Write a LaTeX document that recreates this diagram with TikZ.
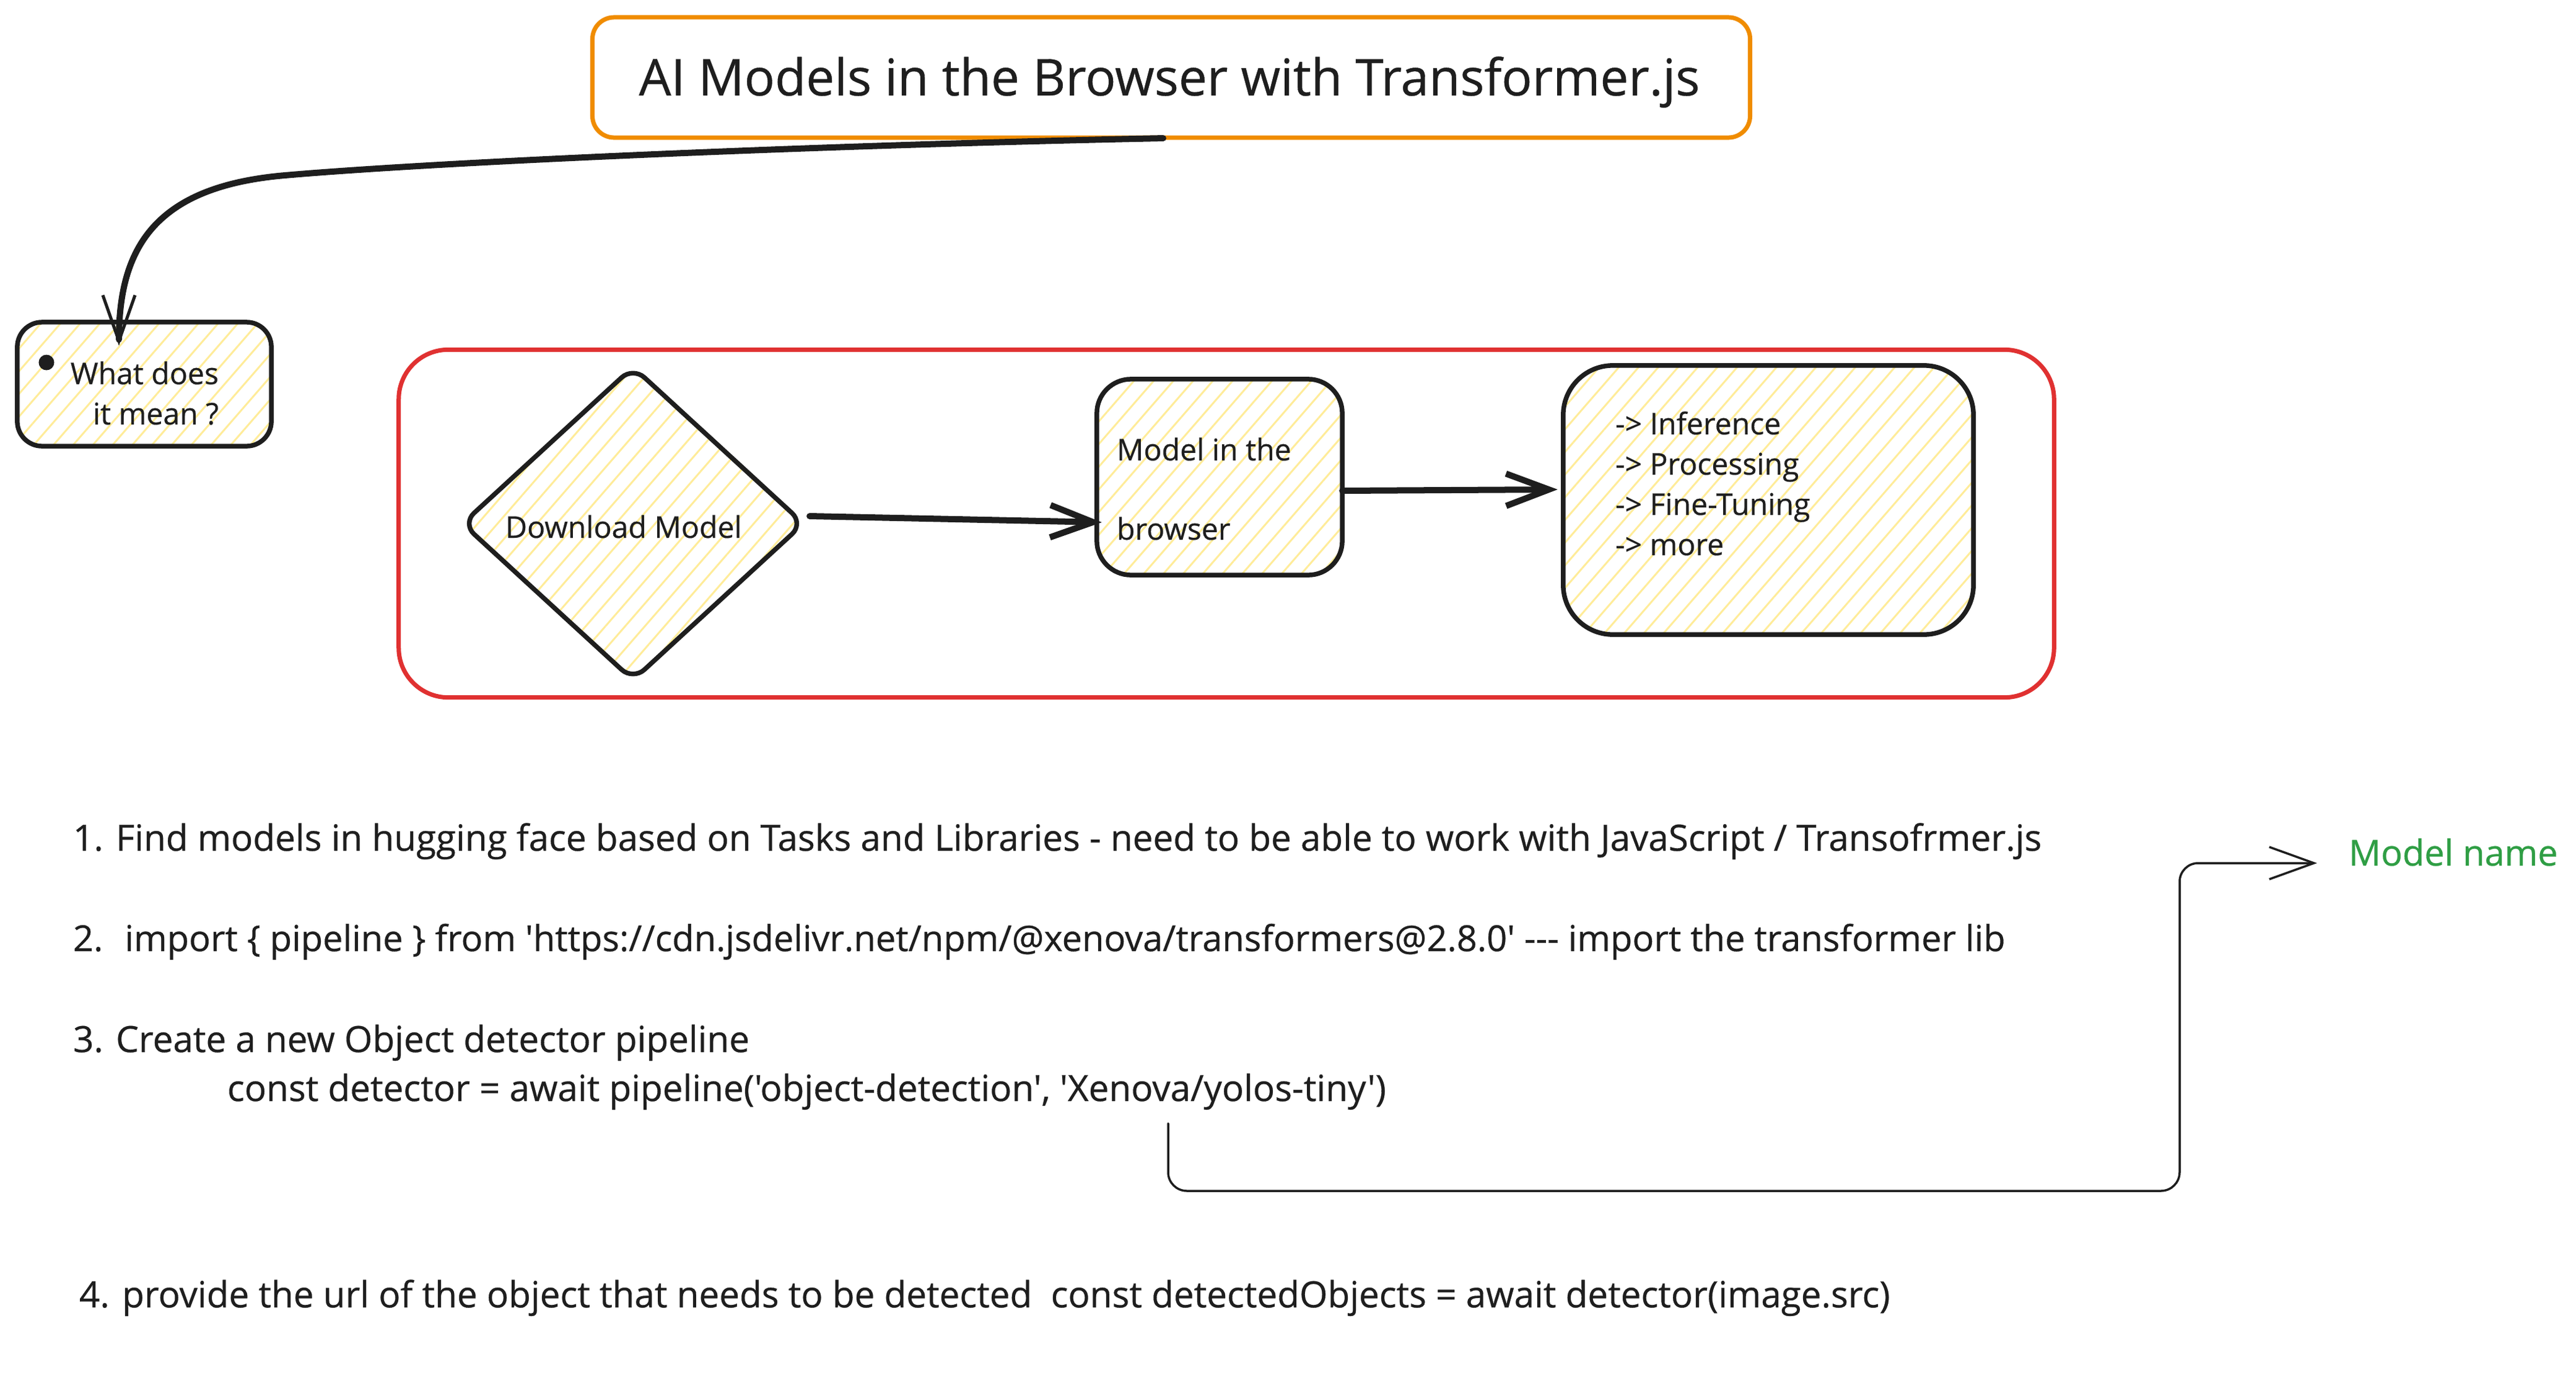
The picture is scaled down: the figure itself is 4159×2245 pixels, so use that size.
\documentclass[tikz,border=0pt]{standalone}
\usepackage{fontspec}
\newfontfamily\xf{Open Sans}[FakeBold=0.5]
\usetikzlibrary{arrows.meta,shapes.geometric,patterns.meta,calc}
\definecolor{ink}{HTML}{1E1E1E}
\definecolor{exorange}{HTML}{F08C00}
\definecolor{exred}{HTML}{E03131}
\definecolor{exgreen}{HTML}{2F9E44}
\definecolor{hatchy}{HTML}{FFEC99}
\newcommand\fsT{\fontsize{23.3pt}{27pt}\selectfont}
\newcommand\fsB{\fontsize{16.6pt}{20pt}\selectfont}
\newcommand\fsBn{\fontsize{16.42pt}{20pt}\selectfont}
\newcommand\fsS{\fontsize{13.7pt}{16pt}\selectfont}
\newcommand\fsM{\fontsize{16.4pt}{20pt}\selectfont}
\begin{document}
\begin{tikzpicture}[x=0.01cm,y=-0.01cm,
  txt/.style={inner sep=0pt, outer sep=0pt, text=ink, font=\xf\fsB},
  smalltxt/.style={txt, font=\xf\fsS},
  hatched/.style={pattern={Lines[angle=49,distance=0.24cm,line width=0.03cm]}, pattern color=hatchy},
  blackbox/.style={draw=ink, line width=0.075cm, hatched, inner sep=0pt, outer sep=0pt},
  framebox/.style={rectangle, line width=0.07cm, inner sep=0pt, outer sep=0pt},
  thickarrow/.style={draw=ink, line width=0.1cm, line cap=round, -{Straight Barb[length=0.69cm,width=0.52cm]}},
  bigarrow/.style={draw=ink, line width=0.1cm, line cap=round, -{Straight Barb[length=0.74cm,width=0.52cm,line width=0.05cm]}},
  thinarrow/.style={draw=ink, line width=0.035cm, line cap=round, rounded corners=0.3cm, -{Straight Barb[length=0.72cm,width=0.52cm]}}
]
\useasboundingbox[fill=white] (0,0) rectangle (4159,2245);

% title
\node[framebox, draw=exorange, rounded corners=0.35cm, minimum width=18.68cm, minimum height=1.94cm] (title) at (1891,125) {};
\node[txt, font=\xf\fsT, anchor=base] (titletxt) at (1888,154) {AI Models in the Browser with Transformer.js};

% what does it mean
\node[blackbox, rectangle, rounded corners=0.4cm, minimum width=4.1cm, minimum height=2cm] (what) at (233,620) {};
\node[circle, fill=ink, inner sep=0pt, minimum size=0.25cm] (dot) at (75,585) {};
\node[smalltxt, anchor=base east] (whatA) at (353,620) {What does};
\node[smalltxt, anchor=base east] (whatB) at (353,685) {it mean ?};

% red frame
\node[framebox, draw=exred, rounded corners=0.8cm, minimum width=26.71cm, minimum height=5.61cm] (frame) at (1980,845) {};

% diamond
\node[blackbox, diamond, rounded corners=0.25cm, minimum width=5.5cm, minimum height=5.05cm] (dl) at (1022,845) {};
\node[smalltxt, anchor=base west] (dltxt) at (816,868) {Download Model};

% model in the browser
\node[blackbox, rectangle, rounded corners=0.55cm, minimum width=3.96cm, minimum height=3.16cm] (mb) at (1969,770) {};
\node[smalltxt, anchor=base west] (mbA) at (1803,743) {Model in the};
\node[smalltxt, anchor=base west] (mbB) at (1803,871) {browser};

% list box
\node[blackbox, rectangle, rounded corners=0.8cm, minimum width=6.62cm, minimum height=4.34cm] (lb) at (2855,807) {};
\node[smalltxt, anchor=base west] (lbA) at (2608,701) {-> Inference};
\node[smalltxt, anchor=base west] (lbB) at (2608,766) {-> Processing};
\node[smalltxt, anchor=base west] (lbC) at (2608,831) {-> Fine-Tuning};
\node[smalltxt, anchor=base west] (lbD) at (2608,896) {-> more};

% numbered text
\node[txt, anchor=base west] (l1) at (118,1373) {1. Find models in hugging face based on Tasks and Libraries - need to be able to work with JavaScript / Transofrmer.js};
\node[txt, font=\xf\fsBn, anchor=base west] (l2) at (118,1535) {2.~ import \{ pipeline \} from 'https://cdn.jsdelivr.net/npm/@xenova/transformers@2.8.0' --- import the transformer lib};
\node[txt, anchor=base west] (l3) at (118,1698) {3. Create a new Object detector pipeline};
\node[txt, anchor=base west] (l3b) at (367,1777) {const detector = await pipeline('object-detection', 'Xenova/yolos-tiny')};
\node[txt, anchor=base west] (l4) at (128,2110) {4. provide the url of the object that needs to be detected~ const detectedObjects = await detector(image.src)};
\node[txt, font=\xf\fsM, text=exgreen, anchor=base west] (mname) at (3792,1397) {Model name};

% connectors
\draw[bigarrow] ($(title.south)+(-13,1)$) .. controls (1300,235) and (700,262) .. (460,283)
   .. controls (250,301) and (192,400) .. ($(what.north)+(-41,38)$);
\draw[thickarrow] ($(dl.east)+(10,-12)$) -- ($(mb.west)+(8,73)$);
\draw[thickarrow] ($(mb.east)+(0,22)$) -- ($(lb.west)+(-9,-17)$);
\coordinate (cstart) at ($(l3b.base west)+(1519,36)$);
\draw[thinarrow] (cstart) -- ++(0,109) -| ($(mname.base west)+(-273,-4)$) -- ($(mname.base west)+(-51,-4)$);
\end{tikzpicture}
\end{document}
